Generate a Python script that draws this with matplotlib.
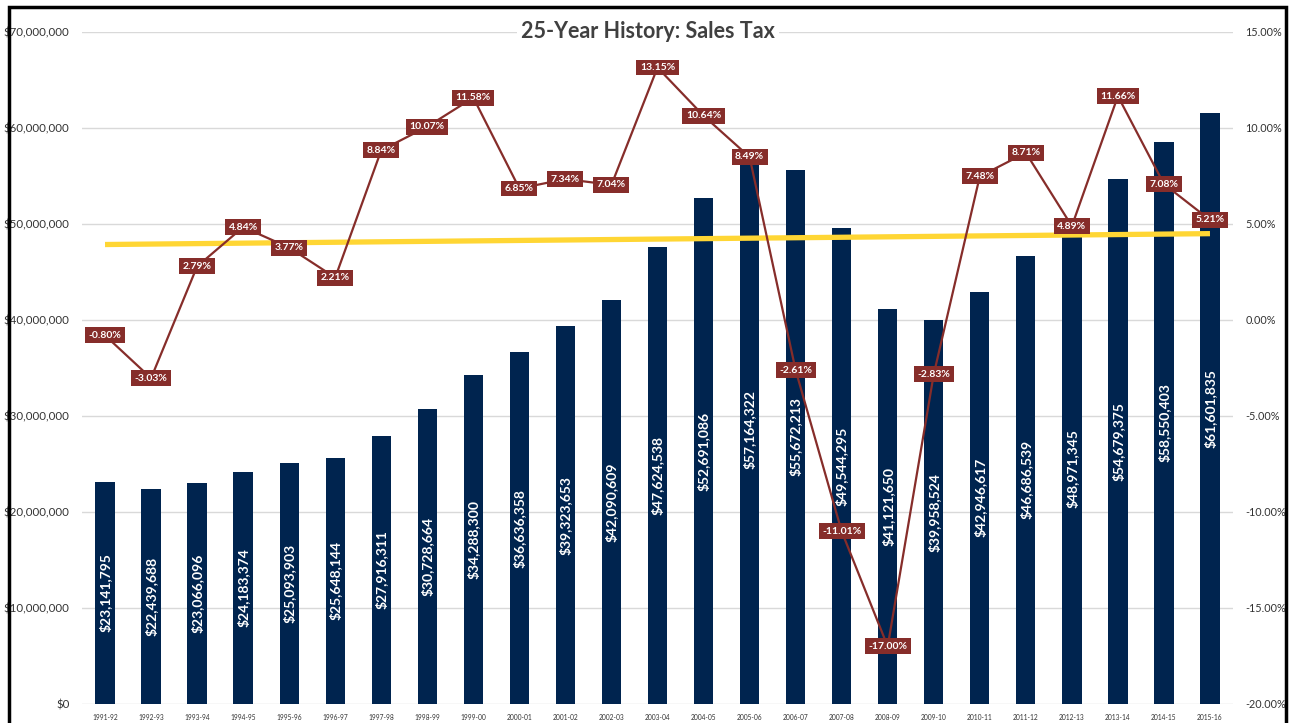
import numpy as np
import matplotlib.pyplot as plt
from matplotlib.patches import Rectangle
from matplotlib.ticker import FuncFormatter, MultipleLocator

# Data
years = ["1991-92", "1992-93", "1993-94", "1994-95", "1995-96", "1996-97", "1997-98",
         "1998-99", "1999-00", "2000-01", "2001-02", "2002-03", "2003-04", "2004-05",
         "2005-06", "2006-07", "2007-08", "2008-09", "2009-10", "2010-11", "2011-12",
         "2012-13", "2013-14", "2014-15", "2015-16"]
sales = [23141795, 22439688, 23066096, 24183374, 25093903, 25648144, 27916311,
         30728664, 34288300, 36636358, 39323653, 42090609, 47624538, 52691086,
         57164322, 55672213, 49544295, 41121650, 39958524, 42946617, 46686539,
         48971345, 54679375, 58550403, 61601835]
growth = [-0.80, -3.03, 2.79, 4.84, 3.77, 2.21, 8.84, 10.07, 11.58, 6.85, 7.34, 7.04,
          13.15, 10.64, 8.49, -2.61, -11.01, -17.00, -2.83, 7.48, 8.71, 4.89, 11.66,
          7.08, 5.21]

navy = '#00244F'
red = '#862D2A'
gold = '#FFD634'
grey = '#333333'

plt.rcParams['font.family'] = ['Lato', 'DejaVu Sans']

W, H = 1290, 723
fig = plt.figure(figsize=(W / 100, H / 100), dpi=100)
ax = fig.add_axes([82 / W, 1 - 704 / H, (1233 - 82) / W, (704 - 32) / H])

x = np.arange(len(years))
ax.bar(x, sales, width=0.42, color=navy, zorder=2)
for xi, v in zip(x, sales):
    ax.text(xi, v / 2, f"${v:,.0f}", rotation=90, ha='center', va='center',
            color='white', fontsize=10, fontweight='bold', zorder=3)

ax.set_xlim(-0.5, len(years) - 0.5)
ax.set_ylim(0, 70e6)
ax.yaxis.set_major_locator(MultipleLocator(10e6))
ax.yaxis.set_major_formatter(FuncFormatter(lambda v, p: f"${v:,.0f}"))
ax.grid(axis='y', color='#D9D9D9', lw=1, zorder=0)
ax.set_axisbelow(True)
for s in ax.spines.values():
    s.set_visible(False)
ax.set_xticks(x, years)
ax.tick_params(axis='x', length=0, labelsize=4.8, pad=7, colors=grey)
ax.tick_params(axis='y', length=0, labelsize=8.3, pad=9, colors=grey)

# growth line on the right axis
ax2 = ax.twinx()
ax2.set_ylim(-20, 15)
ax2.yaxis.set_major_locator(MultipleLocator(5))
ax2.yaxis.set_major_formatter(FuncFormatter(lambda v, p: f"{v:.2f}%"))
for s in ax2.spines.values():
    s.set_visible(False)
ax2.tick_params(axis='y', length=0, labelsize=7.8, pad=9, colors=grey)

trend = np.polyval(np.polyfit(x, growth, 1), x)
ax2.plot(x, trend, color=gold, lw=3.8, zorder=2, solid_capstyle='butt')
ax2.plot(x, growth, color=red, lw=1.6, zorder=3)
for xi, g in zip(x, growth):
    ax2.text(xi, g, f"{g:.2f}%", ha='center', va='center', color='white', fontsize=7.5,
             fontweight='bold', zorder=4,
             bbox=dict(boxstyle='square,pad=0.33', fc=red, ec='none'))

fig.text(648 / W, 1 - 32 / H, "25-Year History: Sales Tax", ha='center', va='center',
         fontsize=15.5, fontweight='bold', color='#404040',
         bbox=dict(boxstyle='square,pad=0.2', fc='white', ec='none'))

# outer black frame
fig.add_artist(Rectangle((8.5 / W, -0.02), (1286 - 8.5) / W, 1.02 - 7 / H,
                         transform=fig.transFigure, fill=False, ec='black', lw=2.5))

plt.savefig('out.png')
